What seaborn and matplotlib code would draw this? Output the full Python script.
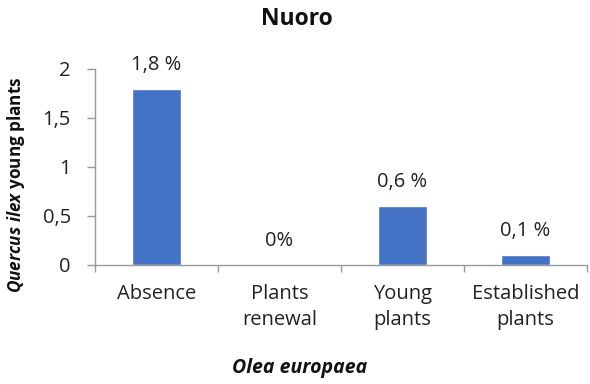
import matplotlib
matplotlib.use("Agg")
import matplotlib.pyplot as plt
import seaborn as sns
import pandas as pd
import numpy as np

categories = ["Absence", "Plants\nrenewal", "Young\nplants", "Established\nplants"]
values = [1.8, 0.0, 0.6, 0.1]
value_labels = ["1,8 %", "0%", "0,6 %", "0,1 %"]
yticks = [0, 0.5, 1, 1.5, 2]
ytick_labels = ["0", "0,5", "1", "1,5", "2"]

sns.set_style("white")
plt.rcParams["font.family"] = ["Open Sans", "DejaVu Sans"]
plt.rcParams["mathtext.fontset"] = "custom"
plt.rcParams["mathtext.bfit"] = "Open Sans:italic:bold"
plt.rcParams["mathtext.it"] = "Open Sans:italic"
plt.rcParams["mathtext.rm"] = "Open Sans"

TXT = "#222222"
FS = 14.5

df = pd.DataFrame({"category": categories, "value": values})

fig = plt.figure(figsize=(5.9, 3.84), dpi=100)
ax = fig.add_axes([95 / 590, 1 - 265 / 384, 492 / 590, 196 / 384])

sns.barplot(data=df, x="category", y="value", ax=ax, color="#4472C4",
            saturation=1, width=0.4)

ax.set_xlim(-0.5, 3.5)
ax.set_ylim(0, 2)
ax.set_yticks(yticks)
ax.set_yticklabels(ytick_labels, fontsize=FS, color=TXT)
ax.tick_params(axis="y", length=5.8, width=1, color="#999999", pad=11.5, left=True)

# category labels centred, tick marks at category boundaries
ax.set_xticks(range(len(categories)))
ax.set_xticklabels(categories, fontsize=FS, color=TXT, linespacing=1.4)
ax.tick_params(axis="x", which="major", length=0, pad=14)
ax.set_xticks(np.arange(-0.5, len(categories), 1), minor=True)
ax.tick_params(axis="x", which="minor", length=5, width=1, color="#999999", bottom=True)

for side in ["top", "right"]:
    ax.spines[side].set_visible(False)
for side in ["left", "bottom"]:
    ax.spines[side].set_color("#999999")
    ax.spines[side].set_linewidth(1)

for i, (v, lab) in enumerate(zip(values, value_labels)):
    ax.annotate(lab, xy=(i, v), xytext=(0, 10), textcoords="offset points",
                ha="center", va="bottom", fontsize=FS, color=TXT)

ax.set_xlabel("")
ax.set_ylabel("")

fig.text(16 / 590, 1 - 185 / 384, r"$\mathbfit{Quercus\ ilex}$ young plants",
         rotation=90, ha="center", va="center", fontsize=12.3,
         fontweight="bold", color="#111111")
fig.text(300 / 590, 1 - 368 / 384, "Olea europaea", ha="center", va="center",
         fontsize=14, fontweight="bold", fontstyle="italic", color="#111111")
fig.text(297 / 590, 1 - 19 / 384, "Nuoro", ha="center", va="center",
         fontsize=16.5, fontweight="bold", color="#111111")

fig.savefig("out.png", dpi=100, facecolor="white")
